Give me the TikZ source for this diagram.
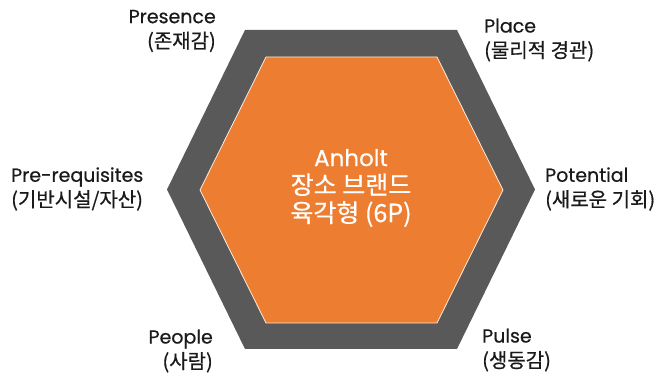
\documentclass[tikz,border=0pt]{standalone}
\usepackage{fontspec}
\setmainfont{Poppins}[FakeBold=0.5]
\newfontfamily\kr{Noto Sans CJK KR}[FakeBold=0.5]
\definecolor{hexgray}{HTML}{595959}
\definecolor{hexorange}{HTML}{ED7D31}
\definecolor{labeltext}{HTML}{1A1A1A}
\newcommand{\krl}[1]{{\kr\fontsize{20}{25}\selectfont #1}}
\newcommand{\krc}[1]{{\kr\fontsize{25}{28}\selectfont #1}}
\begin{document}
\begin{tikzpicture}[x=1pt,y=-1pt,
  lbl/.style={text=labeltext,font=\fontsize{19}{25}\selectfont,inner sep=0pt},
  ctr/.style={text=white,font=\fontsize{23}{28}\selectfont,align=center,inner sep=0pt}]
\useasboundingbox (0,0) rectangle (662,379);
% outer gray hexagon
\fill[hexgray] (245,30) -- (457,30) -- (535,189.5) -- (457,349) -- (245,349) -- (167,189.5) -- cycle;
% inner orange hexagon
\filldraw[fill=hexorange,draw=white!85!hexorange,line width=0.8pt] (266,57) -- (437,57) -- (503,190) -- (437,323) -- (266,323) -- (200,190) -- cycle;
% centre text
\node[ctr] (c) at (351,188) {Anholt\\\krc{장소 브랜드}\\\krc{육각형 (6P)}};
% labels
\node[lbl,anchor=east,align=right] (presence) at (216,31) {Presence\\\krl{(존재감)}};
\node[lbl,anchor=west,align=left] (place) at (484,40) {Place\\\krl{(물리적 경관)}};
\node[lbl,anchor=west,align=left] (prereq) at (11,189) {Pre-requisites\\\krl{(기반시설/자산)}};
\node[lbl,anchor=west,align=left] (potential) at (545,189) {Potential\\\krl{(새로운 기회)}};
\node[lbl,anchor=east,align=right] (people) at (213,351) {People\\\krl{(사람)}};
\node[lbl,anchor=west,align=left] (pulse) at (482,350) {Pulse\\\krl{(생동감)}};
\end{tikzpicture}
\end{document}
